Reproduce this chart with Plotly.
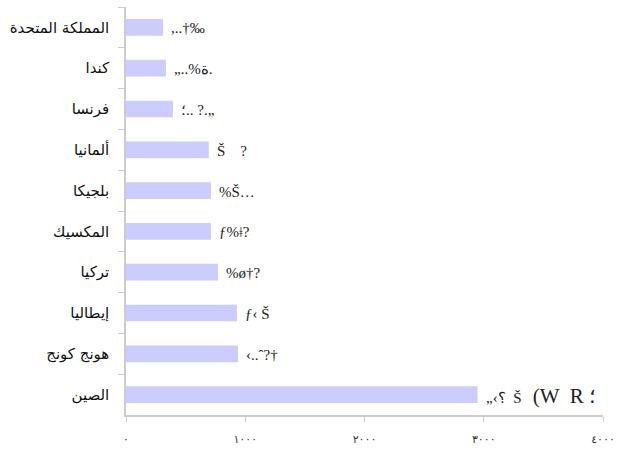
import plotly.graph_objects as go

categories = ["المملكة المتحدة", "كندا", "فرنسا", "ألمانيا", "بلجيكا",
              "المكسيك", "تركيا", "إيطاليا", "هونج كونج", "الصين"]
values = [310, 335, 394, 694, 712, 712, 771, 930, 939, 2948]
value_labels = [",..†‰", "„..%ﺓ.", "؛.. ?.„", "Š    ?", "%Š…",
                "ƒ%ǂ?", "%ø†?", "ƒ‹ Š", "‹..ˆ?†",
                "„‹؟  Š   <span style='font-size:21px'>(W  R ؛</span>"]
tick_vals = [0, 1000, 2000, 3000, 4000]
tick_text = ["٠", "١٠٠٠", "٢٠٠٠", "٣٠٠٠", "٤٠٠٠"]

fig = go.Figure()
fig.add_trace(go.Bar(
    y=categories, x=values, orientation="h",
    marker=dict(color="#ccccff", line=dict(width=0)),
    width=0.41, hoverinfo="skip"))

for c, v, t in zip(categories, values, value_labels):
    fig.add_annotation(x=v, y=c, text=t, showarrow=False, xanchor="left",
                       xshift=6, yshift=-1,
                       font=dict(family="Liberation Serif", size=15, color="#222222"))

fig.update_layout(
    width=631, height=451,
    margin=dict(l=126, r=28, t=7, b=36, autoexpand=False),
    plot_bgcolor="white", paper_bgcolor="white",
    showlegend=False,
    xaxis=dict(range=[0, 4000], tickvals=tick_vals, ticktext=tick_text,
               showgrid=False, zeroline=False, showline=True,
               linecolor="#cccccc", linewidth=1.5, ticks="outside",
               ticklen=5, tickcolor="#cccccc", ticklabelstandoff=8,
               tickfont=dict(family="DejaVu Sans", size=11, color="#333333")),
    yaxis=dict(categoryorder="array", categoryarray=categories,
               autorange="reversed", showgrid=False, zeroline=False,
               showline=True, linecolor="#cccccc", linewidth=1.5,
               ticks="outside", ticklen=6, tickcolor="#cccccc",
               tickson="boundaries", ticklabelstandoff=12,
               tickfont=dict(family="DejaVu Sans", size=15, color="#111111")),
)

fig.write_html("out.html", config={"displayModeBar": False},
               post_script="document.body.style.margin='0';")
